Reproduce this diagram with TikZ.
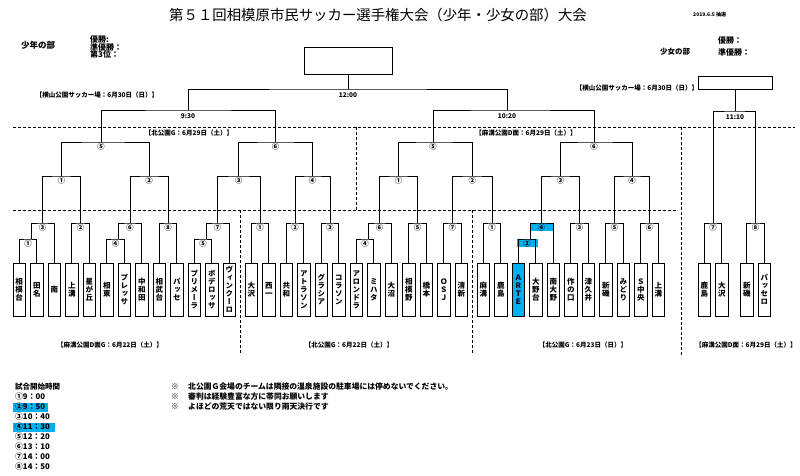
\documentclass[tikz,border=0pt]{standalone}
\usepackage{fontspec}
\setmainfont{Noto Sans CJK JP}
\newfontfamily\tatefont[RawFeature=+vert]{Noto Sans CJK JP}
\usetikzlibrary{calc}
\definecolor{hl}{RGB}{0,176,240}
\def\tatestep#1{\ifx\relax#1\else\hbox to 9pt{\hss#1\hss}\expandafter\tatestep\fi}
\newcommand\tate[1]{\vbox{\baselineskip=8pt\lineskiplimit=-20pt\lineskip=0pt\expandafter\tatestep#1\relax}}
\newcommand\bk[4]{\draw[br] (#1) |- (#3) -| (#2); \node[mlab] at ($(#3)+(0,5)$) {#4};}
\begin{document}
\begin{tikzpicture}[x=1pt,y=-1pt,
  team/.style={draw, line width=0.7pt, minimum width=12.5pt, minimum height=53pt, inner sep=0pt,
     font=\tatefont\bfseries\fontsize{7.5}{8}\selectfont},
  mlab/.style={font=\bfseries\fontsize{7.3}{7.3}\selectfont, inner sep=0pt},
  br/.style={line width=0.8pt},
  sepline/.style={dash pattern=on 3pt off 2pt, line width=1pt},
  loc/.style={font=\bfseries\fontsize{6.5}{7}\selectfont, inner sep=0pt},
  tm/.style={font=\bfseries\fontsize{6.5}{7}\selectfont, inner sep=0pt},
  hdr/.style={font=\bfseries\fontsize{8}{8}\selectfont, inner sep=0pt, anchor=west},
  note/.style={font=\bfseries\fontsize{7.8}{8}\selectfont, inner sep=0pt, anchor=west},
  winbox/.style={draw, line width=0.8pt, inner sep=0pt}]
\useasboundingbox (0,0) rectangle (800,475);

% ---------- title and headers ----------
\node[inner sep=0pt, font=\fontsize{14.4}{15}\selectfont] (title) at (378,15) {第５１回相模原市民サッカー選手権大会（少年・少女の部）大会};
\node[inner sep=0pt, anchor=west, font=\bfseries\fontsize{5}{5}\selectfont] (date) at (693,15) {2019.6.5 抽選};
\node[hdr, font=\bfseries\fontsize{8.5}{9}\selectfont] (boys) at (21,45) {少年の部};
\node[hdr] (bw1) at (90,39.5) {優勝:};
\node[hdr] (bw2) at (90,47) {準優勝：};
\node[hdr] (bw3) at (90,54) {第3位：};
\node[hdr, font=\bfseries\fontsize{7.5}{8}\selectfont] (girls) at (660,52) {少女の部};
\node[hdr] (gw1) at (718,40) {優勝：};
\node[hdr] (gw2) at (718,52) {準優勝：};

% ---------- separators ----------
\draw[sepline] (13,127) -- (795,127);
\draw[sepline] (13,210) -- (677,210);
\draw[sepline] (356,127) -- (356,210);
\draw[sepline] (681,127) -- (681,355);
\draw[sepline] (240,210) -- (240,355);
\draw[sepline] (472,210) -- (472,355);

% ---------- venue labels ----------
\node[loc] (v1) at (97,95) {【横山公園サッカー場：6月30日（日）】};
\node[loc] (v2) at (637,88) {【横山公園サッカー場：6月30日（日）】};
\node[loc] (v3) at (189,133) {【北公園G：6月29日（土）】};
\node[loc] (v4) at (526,133) {【麻溝公園D面：6月29日（土）】};
\node[loc] (v5) at (110,345) {【麻溝公園D面G：6月22日（土）】};
\node[loc] (v6) at (349,345) {【北公園G：6月22日（土）】};
\node[loc] (v7) at (583,345) {【北公園G：6月23日（日）】};
\node[loc] (v8) at (746,345) {【麻溝公園D面：6月29日（土）】};

% ---------- teams ----------
\foreach \nm [count=\i from 0] in {相模台,田名,南,上溝,星が丘,相東,プレッサ,中和田,相武台,パッセ,プリメーラ,ボデロッサ,ヴィンクーロ}
  \node[team] (a\i) at ({19.25+17.5*\i},289.5) {\tate{\nm}};
\foreach \nm [count=\i from 0] in {大沢,西一,共和,アトラソン,グラシア,コラソン,アロンドラ,ミハタ,大沼,相模野,橋本,ＯＳＪ,清新}
  \node[team] (b\i) at ({251.25+17.5*\i},289.5) {\tate{\nm}};
\foreach \nm/\fc [count=\i from 0] in {麻溝/white,鹿島/white,ＡＲＴＥ/hl,大野台/white,南大野/white,作の口/white,津久井/white,新磯/white,みどり/white,Ｓ中央/white,上溝/white}
  \node[team, fill=\fc] (c\i) at ({483.25+17.5*\i},289.5) {\tate{\nm}};
\node[team] (g0) at (704.25,289.5) {\tate{鹿島}};
\node[team] (g1) at (721.75,289.5) {\tate{大沢}};
\node[team] (g2) at (746.75,289.5) {\tate{新磯}};
\node[team] (g3) at (764.25,289.5) {\tate{パッセロ}};

% ---------- bracket points ----------
\coordinate (A1) at (28,239);   \coordinate (A1u) at (31,239);
\coordinate (A3) at (42.6,223);
\coordinate (A2) at (80.5,223);
\coordinate (A4) at (115.5,239); \coordinate (A4u) at (118.5,239);
\coordinate (A6) at (130.1,223);
\coordinate (A8) at (168,223);
\coordinate (A5) at (203,239);  \coordinate (A5u) at (206,239);
\coordinate (A7) at (217.6,223);
\coordinate (B1) at (260,223);
\coordinate (B2) at (295,223);
\coordinate (B3) at (330,223);
\coordinate (B4) at (365,239);  \coordinate (B4u) at (368,239);
\coordinate (B6) at (379.6,223);
\coordinate (B5) at (417.5,223);
\coordinate (B7) at (452.5,223);
\coordinate (C1) at (492,223);
\coordinate (C2) at (527,239);  \coordinate (C2u) at (530,239);
\coordinate (C4) at (541.6,223);
\coordinate (C3) at (579.5,223);
\coordinate (C5) at (614.5,223);
\coordinate (C6) at (649.5,223);
\coordinate (G7) at (713,223);
\coordinate (G8) at (755.5,223);
\coordinate (QL1) at (61.6,176);
\coordinate (QL2) at (149,176);
\coordinate (QL3) at (238.8,176);
\coordinate (QL4) at (312.5,176);
\coordinate (QR1) at (398.6,176);
\coordinate (QR2) at (472.2,176);
\coordinate (QR3) at (560.6,176);
\coordinate (QR4) at (632,176);
\coordinate (SL) at (101,142);
\coordinate (SL6) at (275.6,142);
\coordinate (SR) at (433,142);
\coordinate (SR6) at (594,142);
\coordinate (FL) at (188,110);
\coordinate (FR) at (507,110);
\coordinate (FN) at (348,89);
\coordinate (GF) at (735,111);

% ---------- highlight bars ----------
\fill[hl] ($(C2)+(-10.5,0)$) rectangle ($(C2)+(10.5,7.5)$);
\fill[hl] ($(C4)+(-12,0)$) rectangle ($(C4)+(12,7.5)$);

% ---------- first day matches ----------
\bk{a0.north}{a1.north}{A1}{①}
\bk{A1u}{a2.north}{A3}{③}
\bk{a3.north}{a4.north}{A2}{②}
\bk{a5.north}{a6.north}{A4}{④}
\bk{A4u}{a7.north}{A6}{⑥}
\bk{a8.north}{a9.north}{A8}{⑧}
\bk{a10.north}{a11.north}{A5}{⑤}
\bk{A5u}{a12.north}{A7}{⑦}
\bk{b0.north}{b1.north}{B1}{①}
\bk{b2.north}{b3.north}{B2}{②}
\bk{b4.north}{b5.north}{B3}{③}
\bk{b6.north}{b7.north}{B4}{④}
\bk{B4u}{b8.north}{B6}{⑥}
\bk{b9.north}{b10.north}{B5}{⑤}
\bk{b11.north}{b12.north}{B7}{⑦}
\bk{c0.north}{c1.north}{C1}{①}
\bk{c2.north}{c3.north}{C2}{②}
\bk{C2u}{c4.north}{C4}{④}
\bk{c5.north}{c6.north}{C3}{③}
\bk{c7.north}{c8.north}{C5}{⑤}
\bk{c9.north}{c10.north}{C6}{⑥}
\bk{g0.north}{g1.north}{G7}{⑦}
\bk{g2.north}{g3.north}{G8}{⑧}

% ---------- quarter finals and semis ----------
\bk{A3}{A2}{QL1}{①}
\bk{A6}{A8}{QL2}{②}
\bk{A7}{B1}{QL3}{③}
\bk{B2}{B3}{QL4}{④}
\bk{B6}{B5}{QR1}{①}
\bk{B7}{C1}{QR2}{②}
\bk{C4}{C3}{QR3}{③}
\bk{C5}{C6}{QR4}{④}
\bk{QL1}{QL2}{SL}{⑤}
\bk{QL3}{QL4}{SL6}{⑥}
\bk{QR1}{QR2}{SR}{⑤}
\bk{QR3}{QR4}{SR6}{⑥}

% ---------- finals ----------
\draw[br] (SL) |- (FL) -| (SL6);
\node[tm] (t930) at ($(FL)+(0,6.5)$) {9:30};
\draw[br] (SR) |- (FR) -| (SR6);
\node[tm] (t1020) at ($(FR)+(0,6.5)$) {10:20};
\draw[br] (FL) |- (FN) -| (FR);
\node[tm] (t1200) at ($(FN)+(0,6.5)$) {12:00};
\node[winbox, minimum width=88pt, minimum height=27pt] (champ) at (348,60.5) {};
\draw[br] (champ.south) -- (FN);
\draw[br] (G7) |- (GF) -| (G8);
\node[tm] (t1110) at ($(GF)+(0,6)$) {11:10};
\node[winbox, minimum width=74pt, minimum height=12.5pt] (gchamp) at (735,83) {};
\draw[br] (gchamp.south) -- (GF);

% ---------- schedule ----------
\fill[hl] (13,403) rectangle (48,411.5);
\fill[hl] (13,423) rectangle (55,431.5);
\node[note, font=\bfseries\fontsize{7.5}{8}\selectfont] (sh) at (15,387) {試合開始時間};
\node[note] (s1) at (15,397) {①9：00};
\node[note] (s2) at (15,407) {②9：50};
\node[note] (s3) at (15,417) {③10：40};
\node[note] (s4) at (15,427) {④11：30};
\node[note] (s5) at (15,437) {⑤12：20};
\node[note] (s6) at (15,447) {⑥13：10};
\node[note] (s7) at (15,457) {⑦14：00};
\node[note] (s8) at (15,467) {⑧14：50};

% ---------- notes ----------
\node[note] (k1) at (171,387) {※};
\node[note] (k2) at (171,397) {※};
\node[note] (k3) at (171,406.5) {※};
\node[note] (n1) at (188,387) {北公園Ｇ会場のチームは隣接の温泉施設の駐車場には停めないでください。};
\node[note] (n2) at (188,397) {審判は経験豊富な方に帯同お願いします};
\node[note] (n3) at (188,406.5) {よほどの荒天ではない限り雨天決行です};
\end{tikzpicture}
\end{document}
